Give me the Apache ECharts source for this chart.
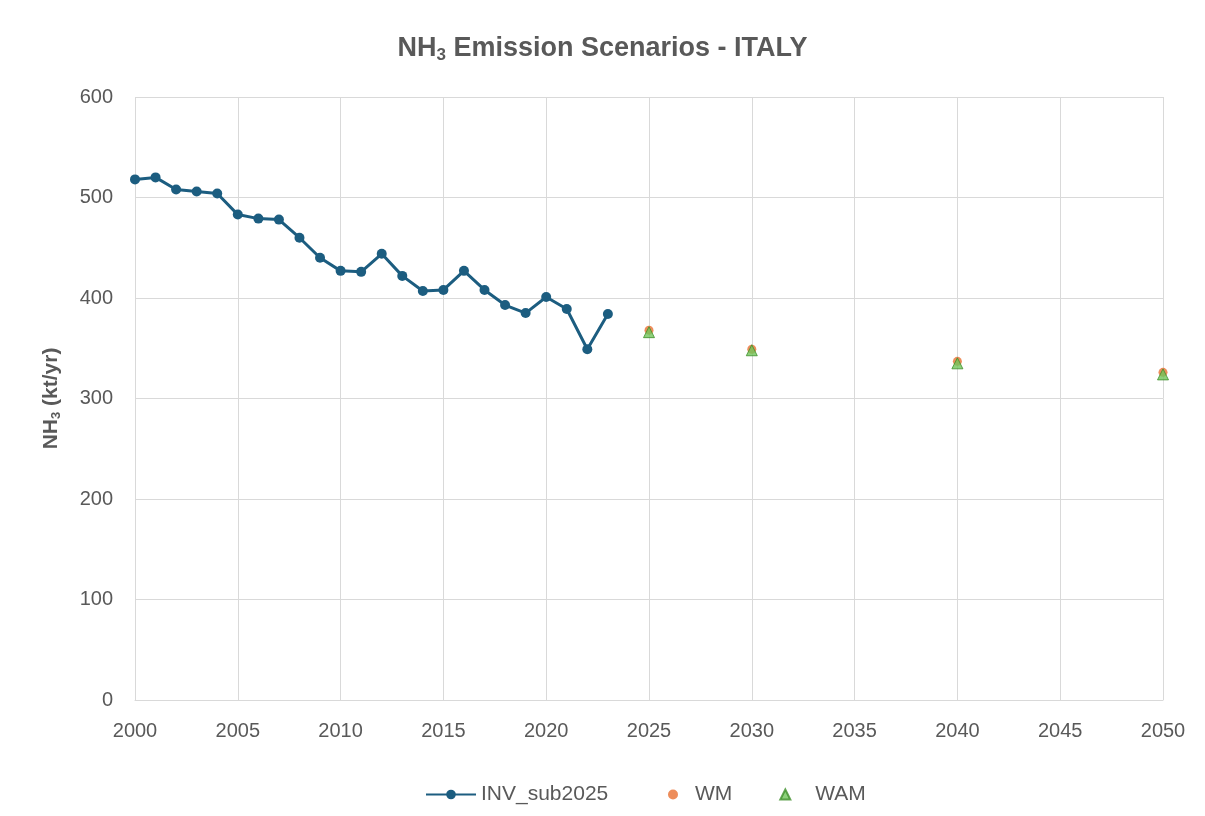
<!DOCTYPE html>
<html>
<head>
<meta charset="utf-8">
<script src="https://cdn.jsdelivr.net/npm/echarts@6/dist/echarts.min.js"></script>
<style>html,body{margin:0;padding:0;background:#fff;}#c{width:1205px;height:816px;}</style>
</head>
<body>
<div id="c"></div>
<script>
const invYears = [2000,2001,2002,2003,2004,2005,2006,2007,2008,2009,2010,2011,2012,2013,2014,2015,2016,2017,2018,2019,2020,2021,2022,2023];
const invValues = [518,520,508,506,504,483,479,478,460,440,427,426,444,422,407,408,427,408,393,385,401,389,349,384];
const scenYears = [2025,2030,2040,2050];
const wmValues = [368,349,337,326];
const wamValues = [366,348,335,324];
const xTicks = [2000,2005,2010,2015,2020,2025,2030,2035,2040,2045,2050];

const chart = echarts.init(document.getElementById('c'));
const font = 'Liberation Sans, Arial, sans-serif';
const grey = '#595959';
chart.setOption({
  animation:false,
  title:{
    text:'{a|NH}{s|3}{a| Emission Scenarios - ITALY}',
    left:'center', top:29,
    textStyle:{rich:{
      a:{fontFamily:font,fontWeight:'bold',fontSize:27,color:grey},
      s:{fontFamily:font,fontWeight:'bold',fontSize:17,color:grey,verticalAlign:'bottom',padding:[13,0,0,0]}
    }}
  },
  grid:{left:135,right:42,top:97,bottom:116,containLabel:false},
  legend:[
    {
      left:420, top:779, itemWidth:50, itemHeight:12, itemGap:40,
      textStyle:{fontFamily:font,fontSize:21,color:grey},
      data:['INV_sub2025']
    },
    {
      left:663, top:779, itemWidth:10, itemHeight:10, itemGap:47,
      textStyle:{fontFamily:font,fontSize:21,color:grey,padding:[0,0,0,12]},
      data:[{name:'WM',icon:'circle'},{name:'WAM',icon:'triangle',textStyle:{padding:[0,0,0,20]}}]
    }
  ],
  xAxis:{
    type:'value', min:2000, max:2050, interval:5,
    axisLine:{show:true,lineStyle:{color:'#d9d9d9'}},
    axisTick:{show:false},
    splitLine:{show:true,lineStyle:{color:'#d9d9d9',width:1}},
    axisLabel:{fontFamily:font,fontSize:20,color:grey,margin:21,
      formatter:v=>xTicks.includes(v)?String(v):''}
  },
  yAxis:{
    type:'value', min:0, max:600, interval:100,
    name:'{a|NH}{s|3}{a| (kt/yr)}', nameLocation:'middle', nameGap:72, nameRotate:90,
    nameTextStyle:{rich:{
      a:{fontFamily:font,fontWeight:'bold',fontSize:21,color:grey},
      s:{fontFamily:font,fontWeight:'bold',fontSize:13,color:grey,verticalAlign:'bottom',padding:[10,0,0,0]}
    }},
    axisLine:{show:false}, axisTick:{show:false},
    splitLine:{lineStyle:{color:'#d9d9d9',width:1}},
    axisLabel:{fontFamily:font,fontSize:20,color:grey,margin:22}
  },
  series:[
    {name:'INV_sub2025',type:'line',data:invYears.map((y,i)=>[y,invValues[i]]),
     symbol:'circle',symbolSize:10,lineStyle:{color:'#1c5d80',width:3},
     itemStyle:{color:'#1c5d80'}},
    {name:'WM',type:'scatter',data:scenYears.map((y,i)=>[y,wmValues[i]]),
     symbol:'circle',symbolSize:9,itemStyle:{color:'#e97132'}},
    {name:'WAM',type:'scatter',data:scenYears.map((y,i)=>[y,wamValues[i]]),
     symbol:'triangle',symbolSize:11,itemStyle:{color:'#71c55a',borderColor:'#3e8f2a',borderWidth:1}}
  ]
});
</script>
</body>
</html>
